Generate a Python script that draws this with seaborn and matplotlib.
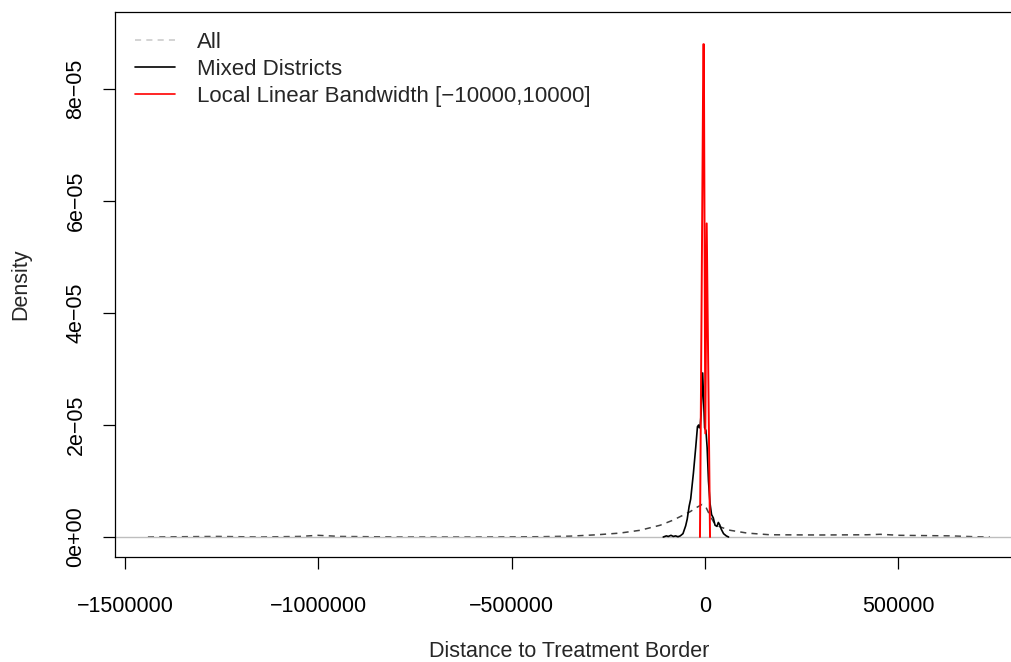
import matplotlib
matplotlib.use('Agg')
import matplotlib.pyplot as plt
from matplotlib.lines import Line2D
import seaborn as sns
import pandas as pd

# density of all districts (dashed)
all_x = [-1441000, -1260000, -1151000, -1048000, -1001000, -944000, -789000,
         -582000, -427000, -349000, -279000, -220000, -168000, -116000, -83000,
         -39000, -21000, -7800, 2600, 13000, 23000, 39000, 65000, 109000,
         168000, 298000, 419000, 453000, 504000, 634000, 698000, 737000]
all_y = [0, 1e-7, 0, 1e-7, 3e-7, 1e-7, 0,
         0, 5e-8, 1.5e-7, 4e-7, 7e-7, 1.2e-6, 2.1e-6, 3.0e-6,
         4.5e-6, 5.3e-6, 5.8e-6, 5.3e-6, 3.8e-6, 2.6e-6, 1.8e-6, 1.2e-6, 7e-7,
         4e-7, 3.6e-7, 4e-7, 4.8e-7, 3e-7, 2e-7, 5e-8, 0]

# mixed districts
mixed_x = [-108000, -100000, -95000, -88000, -82000, -76000, -70000, -64000,
           -57000, -50000, -46000, -41000, -37000, -30000, -24000, -19500,
           -16500, -14500, -12500, -10000, -6000, -1000, 2500, 5500, 9000,
           13000, 17000, 21500, 26000, 31000, 34500, 38000, 42000, 48000,
           55000, 61000]
mixed_y = [0, 2e-7, 1e-7, 3e-7, 1e-7, 2e-7, 5e-8, 2e-7,
           6e-7, 2.0e-6, 3.2e-6, 5.5e-6, 6.8e-6, 1.14e-5, 1.6e-5, 1.97e-5,
           2.0e-5, 1.95e-5, 1.98e-5, 2.2e-5, 2.93e-5, 1.95e-5, 1.9e-5, 1.6e-5, 1.0e-5,
           6e-6, 4e-6, 3.4e-6, 2.1e-6, 1.9e-6, 2.6e-6, 2.2e-6, 1.4e-6, 6e-7,
           2e-7, 0]

# local linear bandwidth sample
llb_x = [-13000, -4200, -3000, 800, 4400, 13000]
llb_y = [0, 8.8e-5, 8.8e-5, 1.85e-5, 5.6e-5, 0]

legend_labels = ['All', 'Mixed Districts', 'Local Linear Bandwidth [\u221210000,10000]']
x_ticks = [-1500000, -1000000, -500000, 0, 500000]
x_ticklabels = ['\u22121500000', '\u22121000000', '\u2212500000', '0', '500000']
y_ticks = [0, 2e-5, 4e-5, 6e-5, 8e-5]
y_ticklabels = ['0e+00', '2e\u221205', '4e\u221205', '6e\u221205', '8e\u221205']

sns.set_style('ticks')
plt.rcParams['font.family'] = ['Liberation Sans', 'DejaVu Sans']
FS = 15.5
LFS = 16

fig = plt.figure(figsize=(10.12, 6.62), dpi=100)
W, H = 1012, 662
ax = fig.add_axes([115 / W, (H - 557) / H, 908.6 / W, 545 / H])

df_all = pd.DataFrame({'x': all_x, 'y': all_y})
df_mixed = pd.DataFrame({'x': mixed_x, 'y': mixed_y})
df_llb = pd.DataFrame({'x': llb_x, 'y': llb_y})

# "All" goes under the gray zero line, the others on top of it
sns.lineplot(data=df_all, x='x', y='y', ax=ax, color='#404040', lw=1.1,
             sort=False, estimator=None, zorder=1)
ax.lines[-1].set_dashes((4.0, 3.4))
ax.axhline(0, color='#bebebe', lw=1.0, zorder=2)
sns.lineplot(data=df_mixed, x='x', y='y', ax=ax, color='black', lw=1.2,
             sort=False, estimator=None, zorder=3)
sns.lineplot(data=df_llb, x='x', y='y', ax=ax, color='#ff0000', lw=1.4,
             sort=False, estimator=None, zorder=4)

ax.set_xlim(-1526125, 824108)
ax.set_ylim(-3.57e-6, 9.375e-5)

ax.set_xticks(x_ticks)
ax.set_xticklabels(x_ticklabels, fontsize=FS)
ax.set_yticks(y_ticks)
ax.set_yticklabels(y_ticklabels, fontsize=FS, rotation=90, va='center')
ax.tick_params(axis='both', direction='out', length=8.5, width=0.9,
               color='black', labelcolor='black')
ax.tick_params(axis='x', pad=19.4)
ax.tick_params(axis='y', pad=12)

for s in ax.spines.values():
    s.set_visible(True)
    s.set_color('black')
    s.set_linewidth(0.9)

ax.set_xlabel('Distance to Treatment Border', fontsize=FS, labelpad=17.5)
ax.set_ylabel('Density', fontsize=FS, labelpad=24.5)

handles = [Line2D([], [], color='#c8c8c8', lw=1.1, dashes=(4.0, 3.4)),
           Line2D([], [], color='black', lw=1.2),
           Line2D([], [], color='#ff0000', lw=1.2)]
ax.legend(handles, legend_labels, loc='upper left', frameon=False,
          bbox_to_anchor=(0.022, 0.964), borderaxespad=0, borderpad=0,
          fontsize=LFS, handlelength=1.8, handletextpad=1.0, labelspacing=0.28)

fig.savefig('out.png', dpi=100)
